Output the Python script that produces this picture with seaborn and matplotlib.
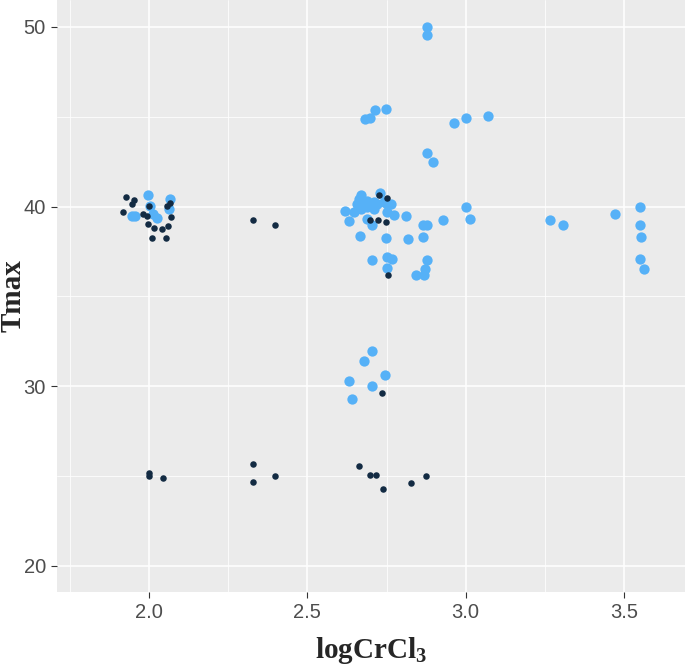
import numpy as np
import pandas as pd
import seaborn as sns
import matplotlib.pyplot as plt
from matplotlib.ticker import MultipleLocator

# light blue points (larger)
light_x = [1.997, 1.946, 1.956, 2.003, 2.013, 2.025, 2.066, 2.063,
           2.877, 2.877, 2.964, 3.002, 3.072, 2.877, 2.898,
           2.681, 2.699, 2.715, 2.749,
           3.002, 3.015, 2.927, 2.866, 2.879, 2.866, 3.268, 3.306, 3.472,
           3.550, 3.550, 3.554, 3.552, 3.563,
           2.670, 2.728, 2.657, 2.689, 2.710, 2.620, 2.647, 2.668, 2.752,
           2.752, 2.773, 2.631, 2.689, 2.705, 2.811,
           2.662, 2.678, 2.720, 2.689, 2.710, 2.741, 2.763,
           2.665, 2.749, 2.819, 2.705, 2.752, 2.766, 2.877, 2.753, 2.871,
           2.844, 2.868,
           2.703, 2.678, 2.745, 2.633, 2.703, 2.640]
light_y = [40.67, 39.50, 39.50, 40.06, 39.61, 39.39, 40.44, 39.89,
           49.98, 49.54, 44.65, 44.94, 45.02, 42.98, 42.46,
           44.87, 44.93, 45.39, 45.46,
           40.00, 39.33, 39.28, 38.98, 38.98, 38.29, 39.28, 38.98, 39.57,
           40.00, 38.98, 38.29, 37.06, 36.50,
           40.65, 40.76, 40.15, 40.33, 40.24, 39.78, 39.68, 39.87, 40.15,
           39.68, 39.56, 39.22, 39.32, 39.00, 39.48,
           40.42, 40.24, 40.15, 39.96, 39.87, 40.24, 40.15,
           38.39, 38.24, 38.18, 37.02, 37.18, 37.09, 37.04, 36.59, 36.50,
           36.22, 36.22,
           31.96, 31.39, 30.61, 30.29, 30.02, 29.28]

# dark navy points (smaller)
dark_x = [1.927, 1.953, 1.946, 1.918, 1.981, 1.994, 2.000, 1.997, 2.016,
          2.041, 2.060, 2.066, 2.057, 2.070, 2.009, 2.054,
          2.329, 2.399,
          2.726, 2.751, 2.697, 2.722, 2.747, 2.755,
          2.737,
          2.001, 1.999, 2.045, 2.327, 2.327, 2.398, 2.662, 2.699, 2.716,
          2.738, 2.826, 2.876]
dark_y = [40.56, 40.39, 40.17, 39.72, 39.61, 39.50, 40.06, 39.06, 38.83,
          38.78, 38.94, 40.22, 40.06, 39.44, 38.28, 38.28,
          39.28, 39.00,
          40.63, 40.46, 39.24, 39.24, 39.17, 36.22,
          29.63,
          25.18, 25.02, 24.87, 25.67, 24.65, 25.02, 25.54, 25.04, 25.04,
          24.29, 24.59, 25.02]

x_ticks = [2.0, 2.5, 3.0, 3.5]
y_ticks = [20, 30, 40, 50]

df_light = pd.DataFrame({'logCrCl3': light_x, 'Tmax': light_y})
df_dark = pd.DataFrame({'logCrCl3': dark_x, 'Tmax': dark_y})

sns.set_theme(style='darkgrid', rc={'axes.facecolor': '#EBEBEB',
                                    'grid.color': 'white'})
plt.rcParams['mathtext.fontset'] = 'custom'
plt.rcParams['mathtext.rm'] = 'Liberation Serif'
plt.rcParams['mathtext.bf'] = 'Liberation Serif:bold'

fig = plt.figure(figsize=(6.85, 6.65), dpi=100)
# panel spans x 57..685, y 0..592 px
ax = fig.add_axes([57 / 685, 73 / 665, 628 / 685, 592 / 665])

sns.scatterplot(data=df_light, x='logCrCl3', y='Tmax', ax=ax, color='#56B1F7',
                s=55, linewidth=0, zorder=3)
sns.scatterplot(data=df_dark, x='logCrCl3', y='Tmax', ax=ax, color='#132B43',
                s=22, linewidth=0, zorder=4)

ax.set_xlim(1.709, 3.693)
ax.set_ylim(18.55, 51.5)
ax.xaxis.set_minor_locator(MultipleLocator(0.25))
ax.yaxis.set_minor_locator(MultipleLocator(5))
ax.grid(which='major', color='white', linewidth=1.1)
ax.grid(which='minor', color='white', linewidth=0.55)
for s in ax.spines.values():
    s.set_visible(False)

tick_font = ['Liberation Sans Narrow', 'Liberation Sans']
ax.set_xticks(x_ticks)
ax.set_xticklabels([f'{v:.1f}' for v in x_ticks], family=tick_font)
ax.set_yticks(y_ticks)
ax.set_yticklabels([str(v) for v in y_ticks], family=tick_font)
ax.tick_params(axis='both', which='major', length=4, width=0.8, color='#333333',
               labelcolor='#4D4D4D', labelsize=14.5, direction='out', pad=4,
               bottom=True, left=True)
ax.tick_params(axis='both', which='minor', length=0)

ax.set_xlabel(r'$\mathbf{logCrCl_3}$', fontsize=21, labelpad=9)
ax.set_ylabel('Tmax', fontsize=21, family='Liberation Serif', fontweight='bold')
ax.yaxis.set_label_coords(-0.049, 0.5)

plt.savefig('out.png', dpi=100)
